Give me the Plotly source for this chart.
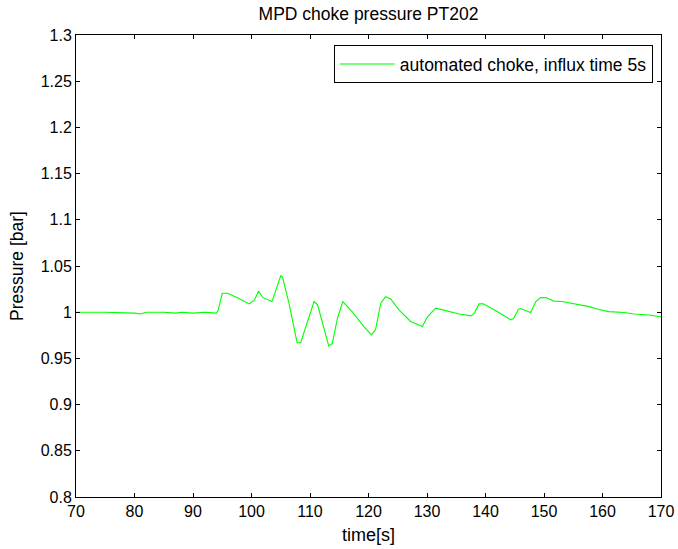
import plotly.graph_objects as go

time_s = [70, 75, 80, 81, 82, 85, 87, 88, 90, 92, 94.0, 94.3, 95.0, 95.9, 97.5, 99.6, 100.5, 101.2, 101.9, 103.5,
          105.0, 105.3, 106.4, 107.8, 108.4, 110.7, 111.3, 113.2, 113.8, 114.7, 115.6, 117.2, 119.2, 120.5,
          121.2, 122.1, 122.9, 123.8, 125.2, 127.2, 129.2, 130.1, 131.5, 132.4, 133.8, 135.5, 137.5, 138.1,
          138.9, 139.6, 141.7, 144.3, 144.8, 145.6, 146.0, 147.7, 148.6, 149.4, 150.3, 151.7, 153.1, 155.4,
          157.7, 159.4, 161.1, 163.7, 165.4, 168.0, 170.0]
pressure = [1.0, 1.0, 0.999, 0.998, 1.0, 1.0, 0.999, 1.0, 0.999, 1.0, 0.999, 1.002, 1.0205, 1.0205, 1.016, 1.009,
            1.013, 1.023, 1.016, 1.0115, 1.0395, 1.038, 1.0097, 0.967, 0.967, 1.0115, 1.008, 0.9636, 0.966,
            0.9935, 1.0115, 1.0006, 0.9845, 0.9755, 0.981, 1.0097, 1.0168, 1.0144, 1.0025, 0.990, 0.9845,
            0.9953, 1.0043, 1.003, 1.0006, 0.998, 0.996, 0.999, 1.009, 1.009, 1.0018, 0.9917, 0.993, 1.003,
            1.004, 0.9996, 1.0115, 1.0158, 1.0158, 1.012, 1.0115, 1.0086, 1.006, 1.003, 1.0006, 0.9996, 0.998,
            0.997, 0.995]

x_ticks = list(range(70, 171, 10))
y_ticks = [0.8, 0.85, 0.9, 0.95, 1.0, 1.05, 1.1, 1.15, 1.2, 1.25, 1.3]
y_ticktext = ["0.8", "0.85", "0.9", "0.95", "1", "1.05", "1.1", "1.15", "1.2", "1.25", "1.3"]

FONT = "Liberation Sans, Arial"

fig = go.Figure()
fig.add_trace(go.Scatter(x=time_s, y=pressure, mode="lines",
                         line=dict(color="#00ff00", width=1.1),
                         name="automated choke, influx time 5s"))

axis_common = dict(showgrid=False, zeroline=False, showline=True, linecolor="black", linewidth=1,
                   mirror="allticks", ticks="inside", ticklen=4, tickcolor="black", automargin=False,
                   tickfont=dict(family=FONT, size=16, color="black"))

fig.update_layout(
    width=678, height=549,
    margin=dict(l=76, r=17, t=35, b=52),
    paper_bgcolor="white", plot_bgcolor="white",
    title=dict(text="MPD choke pressure PT202", x=368.5 / 678, xanchor="center",
               y=1 - 14 / 549, yanchor="middle", automargin=False,
               font=dict(family=FONT, size=17.5, color="black")),
    font=dict(family=FONT, size=17, color="black"),
    xaxis=dict(range=[70, 170], tickvals=x_ticks,
               title=dict(text="time[s]", standoff=9, font=dict(family=FONT, size=18, color="black")),
               **axis_common),
    yaxis=dict(range=[0.8, 1.3], tickvals=y_ticks, ticktext=y_ticktext,
               title=dict(text="Pressure [bar]", standoff=12, font=dict(family=FONT, size=17.5, color="black")),
               **axis_common),
    showlegend=True,
    legend=dict(x=0.986, y=0.978, xanchor="right", yanchor="top", bgcolor="white",
                bordercolor="black", borderwidth=1, itemwidth=55,
                font=dict(family=FONT, size=17.5, color="black")),
)

fig.write_html("out.html")
